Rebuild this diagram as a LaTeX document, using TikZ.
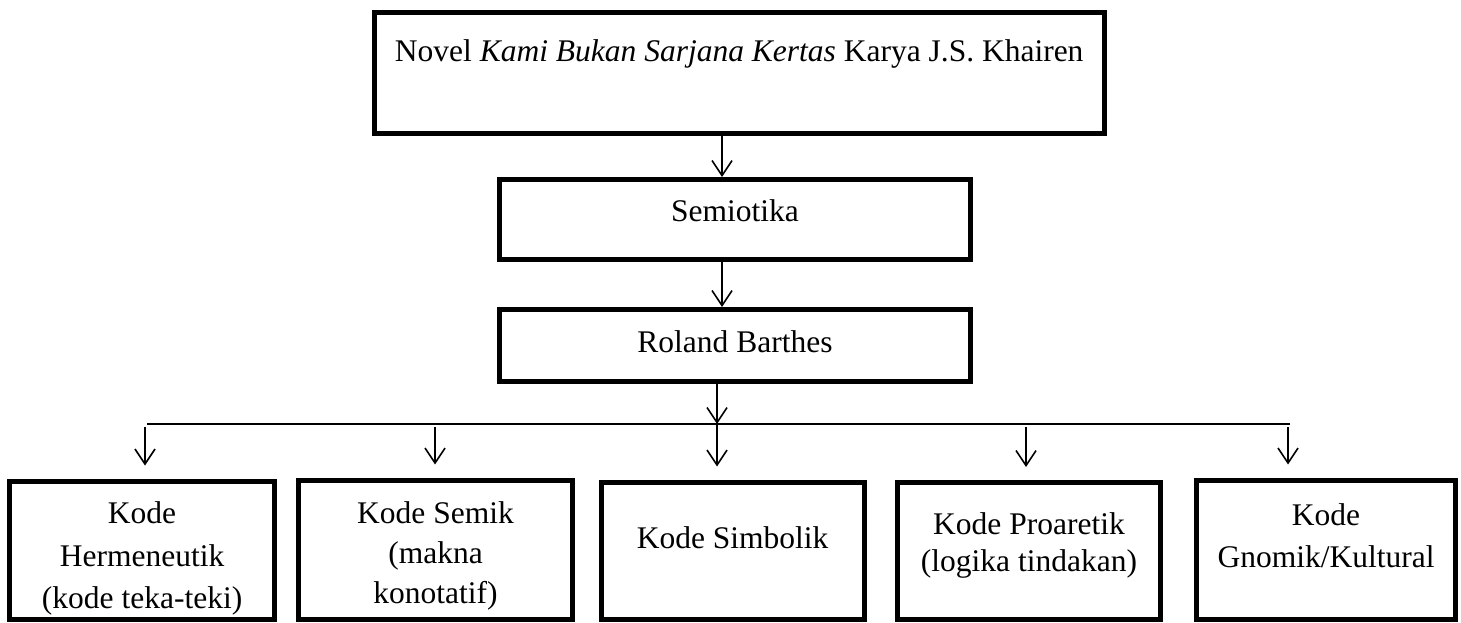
\documentclass[tikz,border=0pt]{standalone}
\usepackage{fontspec}
\setmainfont{Liberation Serif}
\usetikzlibrary{arrows.meta}
\newcommand\mlines[2]{{\fontsize{31.5pt}{#1pt}\selectfont\begin{tabular}[t]{@{}c@{}}#2\end{tabular}}}
\tikzset{
  box/.style={draw, line width=5pt, rectangle, inner sep=0pt, anchor=base, line join=miter,
    font=\fontsize{31.5pt}{40pt}\selectfont},
  arr/.style={line width=1.6pt, -{Straight Barb[length=15pt,width=20pt,line width=1.6pt]}},
  bar/.style={line width=1.6pt}
}
\begin{document}
\begin{tikzpicture}[x=1pt,y=-1pt]
\useasboundingbox (0,0) rectangle (1461,623);
\node[box, minimum width=729.5pt, text height=49.2pt, text depth=71.7pt] (top) at (739.25,61.7) {Novel \textit{Kami Bukan Sarjana Kertas} Karya J.S. Khairen};
\node[box, minimum width=471pt, text height=41.5pt, text depth=38.5pt] (sem) at (735,221) {Semiotika};
\node[box, minimum width=471pt, text height=42.5pt, text depth=29.5pt] (rb) at (735,352) {Roland Barthes};
\node[box, minimum width=264.8pt, text height=42.5pt, text depth=96pt] (b1) at (142.1,523.5) {\mlines{42.5}{Kode\\Hermeneutik\\(kode teka-teki)}};
\node[box, minimum width=274.5pt, text height=43pt, text depth=96.5pt] (b2) at (435.5,523) {\mlines{40}{Kode Semik\\(makna\\konotatif)}};
\node[box, minimum width=263.2pt, text height=66pt, text depth=71.5pt] (b3) at (732.6,548) {Kode Simbolik};
\node[box, minimum width=263pt, text height=51.5pt, text depth=85.5pt] (b4) at (1029,534) {\mlines{37}{Kode Proaretik\\(logika tindakan)}};
\node[box, minimum width=259pt, text height=45pt, text depth=94.5pt] (b5) at (1326,525) {\mlines{42}{Kode\\Gnomik/Kultural}};
% connectors
\coordinate (c1) at (722,0);
\coordinate (c2) at (717,0);
\draw[arr] (top.south -| c1) -- (sem.north -| c1);
\draw[arr] (sem.south -| c1) -- (rb.north -| c1);
\coordinate (hl) at (147,424);
\coordinate (hr) at (1290,424);
\coordinate (hc) at (717,424);
\draw[bar] (hl) -- (hr);
\draw[arr] (rb.south -| c2) -- (hc);
\coordinate (t1) at (145,427);
\coordinate (t2) at (435,427);
\coordinate (t4) at (1026,427);
\coordinate (t5) at (1288,427);
\draw[arr, shorten >=13pt] (hc) -- (hc |- b3.north);
\draw[arr, shorten >=13pt] (t1) -- (t1 |- b1.north);
\draw[arr, shorten >=13pt] (t2) -- (t2 |- b2.north);
\draw[arr, shorten >=13pt] (t4) -- (t4 |- b4.north);
\draw[arr, shorten >=13pt] (t5) -- (t5 |- b5.north);
\end{tikzpicture}
\end{document}
